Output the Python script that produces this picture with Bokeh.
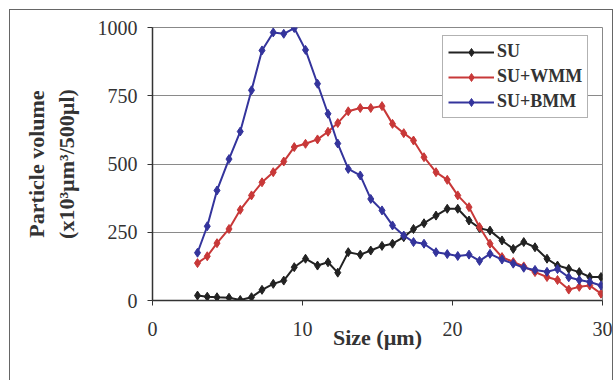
from bokeh.plotting import figure
from bokeh.models import Range1d, FixedTicker, Legend, LegendItem, InlineStyleSheet
from bokeh.embed import file_html
from bokeh.resources import INLINE

size_um = [3.0, 3.65, 4.3, 5.1, 5.85, 6.6, 7.3, 8.05, 8.75, 9.45, 10.2, 11.0, 11.7, 12.35,
           13.05, 13.85, 14.55, 15.3, 16.0, 16.75, 17.4, 18.1, 18.9, 19.65, 20.35, 21.1,
           21.8, 22.5, 23.3, 24.05, 24.75, 25.5, 26.3, 27.0, 27.75, 28.45, 29.15, 29.9]

su = [18, 14, 12, 10, 2, 12, 39, 61, 73, 122, 153, 128, 140, 102, 177, 168, 183, 200, 208,
      232, 262, 283, 311, 336, 336, 293, 265, 256, 220, 189, 214, 195, 153, 128, 116, 104, 86, 86]

su_wmm = [137, 162, 210, 262, 332, 385, 433, 470, 509, 562, 574, 590, 618, 650, 693, 705, 705,
          712, 647, 613, 586, 525, 470, 442, 385, 342, 269, 208, 159, 141, 125, 104, 86, 75,
          40, 50, 55, 25]

su_bmm = [175, 272, 403, 518, 619, 770, 916, 982, 977, 998, 918, 794, 684, 575, 482, 458, 372,
          330, 275, 238, 214, 208, 177, 170, 163, 168, 145, 171, 150, 135, 120, 112, 105, 115,
          85, 75, 68, 55]

series_names = ["SU", "SU+WMM", "SU+BMM"]
series_colors = ["#222222", "#c83838", "#34349c"]

x_ticks = [0, 10, 20, 30]
y_ticks = [0, 250, 500, 750, 1000]

FONT = "Liberation Serif"

p = figure(width=616, height=380, output_backend="svg", toolbar_location=None,
           x_range=Range1d(0, 30), y_range=Range1d(0, 1000),
           min_border_left=152, min_border_right=14, min_border_top=27, min_border_bottom=80)
p.background_fill_color = "white"
p.border_fill_color = "white"
p.outline_line_color = "#888888"
p.outline_line_width = 1

# outer chart border, drawn by CSS on top of the canvas
p.stylesheets = [InlineStyleSheet(css=(
    ":host::after { content: ''; position: absolute; left: 9px; top: 9px; "
    "right: 3px; bottom: -20px; border: 1px solid #666666; pointer-events: none; }"))]

p.xgrid.visible = False
p.ygrid.grid_line_color = "#8a8a8a"
p.ygrid.grid_line_width = 1
p.ygrid.ticker = FixedTicker(ticks=y_ticks)

p.xaxis.ticker = FixedTicker(ticks=x_ticks)
p.yaxis.ticker = FixedTicker(ticks=y_ticks)
for ax in (p.xaxis, p.yaxis):
    ax.major_label_text_font = FONT
    ax.major_label_text_font_size = "20px"
    ax.major_label_text_color = "#333333"
    ax.axis_line_color = "#333333"
    ax.axis_line_width = 1.5
    ax.major_tick_line_color = "#333333"
    ax.major_tick_out = 5
    ax.major_tick_in = 0
    ax.minor_tick_line_color = None
    ax.axis_label_text_font = FONT
    ax.axis_label_text_font_style = "bold"
    ax.axis_label_text_font_size = "22px"
    ax.axis_label_text_color = "#333333"

p.xaxis.axis_label = "Size (µm)"
p.xaxis.major_label_standoff = 16
p.xaxis.axis_label_standoff = -14
p.yaxis.axis_label = "Particle volume\n(x10³µm³/500µl)"
p.yaxis.major_label_standoff = 10
p.yaxis.axis_label_standoff = 16

renderers = []
for ys, name, col in zip([su, su_wmm, su_bmm], series_names, series_colors):
    l = p.line(size_um, ys, line_color=col, line_width=2)
    s = p.scatter(size_um, ys, marker="diamond", size=9, fill_color=col, line_color=col)
    renderers.append([l, s])

legend = Legend(items=[LegendItem(label=n, renderers=r) for n, r in zip(series_names, renderers)],
                location=(290, 182))
legend.label_text_font = FONT
legend.label_text_font_style = "bold"
legend.label_text_font_size = "18px"
legend.label_text_color = "#333333"
legend.glyph_width = 46
legend.glyph_height = 20
legend.label_height = 20
legend.label_standoff = 3
legend.spacing = 4
legend.padding = 5
legend.border_line_color = "#666666"
legend.border_line_width = 1
legend.background_fill_color = "white"
legend.background_fill_alpha = 1
p.add_layout(legend, "center")

open("out.html", "w").write(file_html(p, INLINE))
